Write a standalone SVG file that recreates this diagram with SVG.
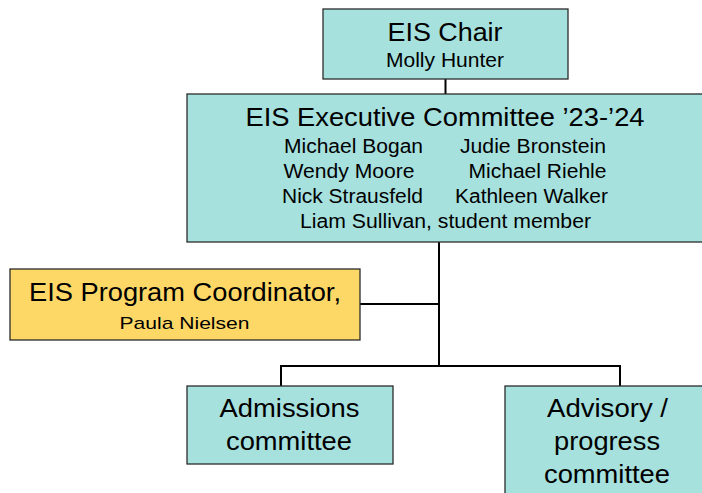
<svg xmlns="http://www.w3.org/2000/svg" width="702" height="493" viewBox="0 0 702 493">
<style>
.box{stroke:#2b2b2b;stroke-width:1.3}
.teal{fill:#a6e1de}
.yellow{fill:#fdd867}
text{font-family:"Liberation Sans",Arial,sans-serif;fill:#000;text-anchor:middle}
.t25{font-size:25px}
.t20{font-size:19.5px}
.t17{font-size:17px}
.conn{stroke:#000;stroke-width:2;fill:none}
</style>
<rect width="702" height="493" fill="#fff"/>
<g id="connectors">
<line class="conn" x1="445.5" y1="79" x2="445.5" y2="94"/>
<line class="conn" x1="439" y1="242" x2="439" y2="366"/>
<line class="conn" x1="360" y1="304" x2="439" y2="304"/>
<polyline class="conn" points="281,386 281,366 620,366 620,386"/>
</g>
<g id="chair">
<rect class="box teal" x="323" y="9" width="245" height="70"/>
<text class="t25" x="445" y="41" textLength="115" lengthAdjust="spacingAndGlyphs">EIS Chair</text>
<text class="t20" x="445" y="67" textLength="118" lengthAdjust="spacingAndGlyphs">Molly Hunter</text>
</g>
<g id="exec">
<rect class="box teal" x="187" y="94" width="520" height="148"/>
<text class="t25" x="445" y="126" textLength="399" lengthAdjust="spacingAndGlyphs">EIS Executive Committee ’23-’24</text>
<text class="t20" x="353.5" y="153" textLength="139" lengthAdjust="spacingAndGlyphs">Michael Bogan</text>
<text class="t20" x="533" y="153" textLength="146" lengthAdjust="spacingAndGlyphs">Judie Bronstein</text>
<text class="t20" x="349" y="177.5" textLength="131" lengthAdjust="spacingAndGlyphs">Wendy Moore</text>
<text class="t20" x="537.5" y="177.5" textLength="138" lengthAdjust="spacingAndGlyphs">Michael Riehle</text>
<text class="t20" x="352.5" y="202.5" textLength="141" lengthAdjust="spacingAndGlyphs">Nick Strausfeld</text>
<text class="t20" x="531.5" y="202.5" textLength="153" lengthAdjust="spacingAndGlyphs">Kathleen Walker</text>
<text class="t20" x="445.5" y="227.5" textLength="291" lengthAdjust="spacingAndGlyphs">Liam Sullivan, student member</text>
</g>
<g id="coordinator">
<rect class="box yellow" x="10" y="269" width="350" height="71"/>
<text class="t25" x="185" y="301" textLength="312" lengthAdjust="spacingAndGlyphs">EIS Program Coordinator,</text>
<text class="t17" x="184.5" y="328.5" textLength="130" lengthAdjust="spacingAndGlyphs">Paula Nielsen</text>
</g>
<g id="admissions">
<rect class="box teal" x="187" y="386" width="206" height="78"/>
<text class="t25" x="289.5" y="417" textLength="140" lengthAdjust="spacingAndGlyphs">Admissions</text>
<text class="t25" x="289" y="449.5" textLength="126" lengthAdjust="spacingAndGlyphs">committee</text>
</g>
<g id="advisory">
<rect class="box teal" x="505" y="386" width="210" height="120"/>
<text class="t25" x="607.5" y="417" textLength="121" lengthAdjust="spacingAndGlyphs">Advisory /</text>
<text class="t25" x="607" y="449.5" textLength="106" lengthAdjust="spacingAndGlyphs">progress</text>
<text class="t25" x="607" y="482.5" textLength="126" lengthAdjust="spacingAndGlyphs">committee</text>
</g>
</svg>
